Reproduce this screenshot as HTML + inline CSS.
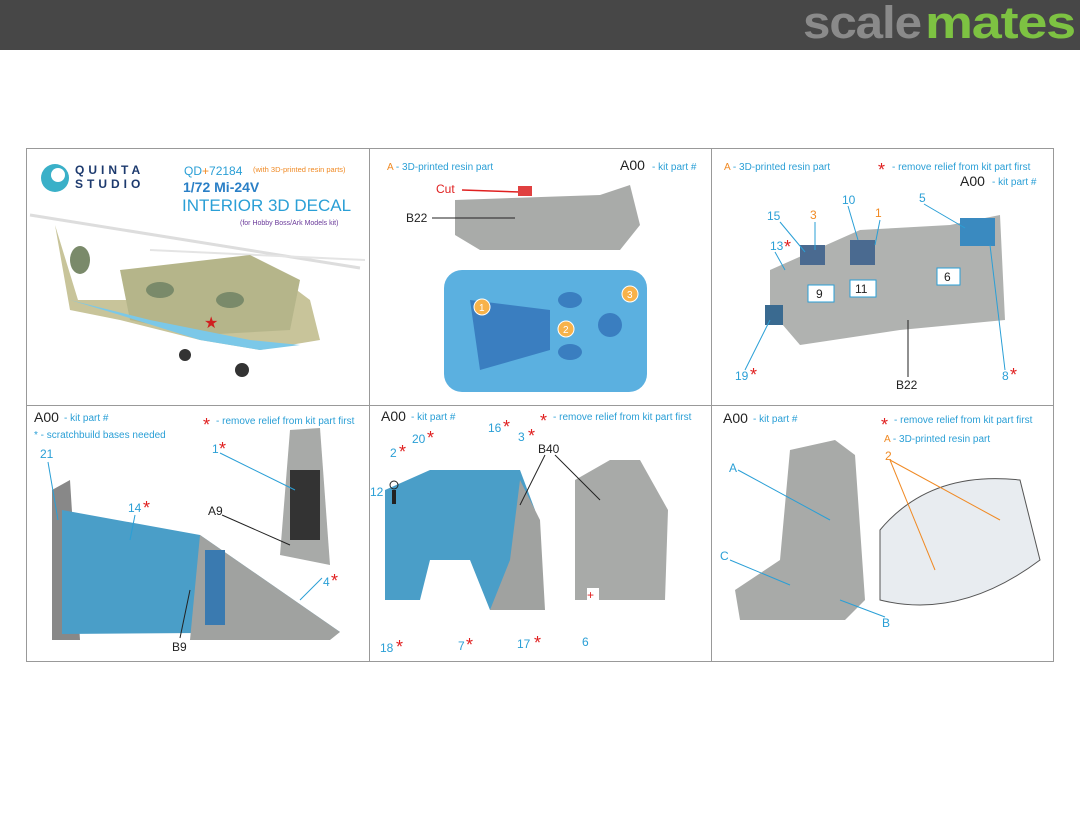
<!DOCTYPE html>
<html><head><meta charset="utf-8"><style>
body{margin:0;width:1080px;height:810px;background:#fff;overflow:hidden;font-family:"Liberation Sans",sans-serif}
</style></head><body>
<svg width="1080" height="810" xmlns="http://www.w3.org/2000/svg" font-family="Liberation Sans, sans-serif">
<rect x="0" y="0" width="1080" height="50" fill="#474747"/>
<text x="803" y="38" font-size="45" font-weight="bold" fill="#8a8a8a" letter-spacing="-1" textLength="118" lengthAdjust="spacingAndGlyphs">scale</text>
<text x="925" y="38" font-size="45" font-weight="bold" fill="#7dc242" letter-spacing="-1" textLength="150" lengthAdjust="spacingAndGlyphs">mates</text>
<rect x="26.5" y="148.5" width="1027" height="513" fill="#fff" stroke="#999" stroke-width="1"/>
<line x1="369.5" y1="148" x2="369.5" y2="662" stroke="#999"/>
<line x1="711.5" y1="148" x2="711.5" y2="662" stroke="#999"/>
<line x1="26" y1="405.5" x2="1054" y2="405.5" stroke="#999"/>

<!-- panel 1 -->
<circle cx="55" cy="178" r="14" fill="#3ab0c8"/><circle cx="58" cy="175" r="7" fill="#fff"/>
<text x="75" y="174" font-size="12" font-weight="bold" fill="#1d3a6e" letter-spacing="4">QUINTA</text>
<text x="75" y="188" font-size="12" font-weight="bold" fill="#1d3a6e" letter-spacing="4">STUDIO</text>
<text x="184" y="175" font-size="12" fill="#2a9fd6">QD<tspan fill="#f08a24">+</tspan>72184</text>
<text x="253" y="172" font-size="7.5" fill="#f08a24">(with 3D-printed resin parts)</text>
<text x="183" y="192" font-size="14" font-weight="bold" fill="#2a7fc6">1/72 Mi-24V</text>
<text x="182" y="211" font-size="17" fill="#2a9fd6">INTERIOR 3D DECAL</text>
<text x="240" y="225" font-size="7" fill="#6a3a9a">(for Hobby Boss/Ark Models kit)</text>
<line x1="30" y1="215" x2="360" y2="268" stroke="#ddd" stroke-width="3"/>
<line x1="150" y1="250" x2="365" y2="260" stroke="#e4e4e4" stroke-width="2"/>
<path d="M55 225 L78 300 L130 300 L200 280 L270 270 L310 300 L320 340 L260 350 L200 340 L120 320 L70 310 Z" fill="#c8c49a"/>
<path d="M120 270 L250 255 L300 280 L290 330 L200 335 L130 320 Z" fill="#b5b58a"/>
<path d="M70 300 L120 315 L200 340 L260 350 L300 345 L250 340 L150 320 Z" fill="#7bc8e8"/>
<circle cx="185" cy="355" r="6" fill="#333"/><circle cx="242" cy="370" r="7" fill="#333"/>
<ellipse cx="80" cy="260" rx="10" ry="14" fill="#7a8a6a"/><ellipse cx="160" cy="290" rx="14" ry="8" fill="#7a8a6a"/><ellipse cx="230" cy="300" rx="14" ry="8" fill="#7a8a6a"/>
<text x="204" y="328" font-size="16" fill="#d02020">★</text>

<!-- panel 2 -->
<text x="387" y="170" font-size="10"><tspan fill="#f08a24">A</tspan><tspan fill="#2a9fd6"> - 3D-printed resin part</tspan></text>
<text x="620" y="170" font-size="14" fill="#222">A00</text><text x="652" y="170" font-size="10" fill="#2a9fd6"> - kit part #</text>
<text x="436" y="193" font-size="12" fill="#e02020">Cut</text>
<line x1="462" y1="190" x2="520" y2="192" stroke="#e02020" stroke-width="1.5"/>
<text x="406" y="222" font-size="12" fill="#222">B22</text>
<path d="M455 200 L600 195 L630 185 L640 225 L620 250 L480 250 L455 235 Z" fill="#a9aba9"/>
<rect x="518" y="186" width="14" height="10" fill="#e04040"/>
<line x1="432" y1="218" x2="515" y2="218" stroke="#222"/>
<rect x="444" y="270" width="203" height="122" rx="18" fill="#5bb0e0"/>
<path d="M470 300 L550 310 L550 350 L480 370 Z" fill="#3a7ec0"/>
<ellipse cx="570" cy="300" rx="12" ry="8" fill="#3a7ec0"/><ellipse cx="570" cy="352" rx="12" ry="8" fill="#3a7ec0"/><ellipse cx="610" cy="325" rx="12" ry="12" fill="#3a7ec0"/>
<circle cx="482" cy="307" r="8" fill="#f7b24a" stroke="#fff"/><text x="479" y="311" font-size="10" fill="#fff">1</text>
<circle cx="566" cy="329" r="8" fill="#f7b24a" stroke="#fff"/><text x="563" y="333" font-size="10" fill="#fff">2</text>
<circle cx="630" cy="294" r="8" fill="#f7b24a" stroke="#fff"/><text x="627" y="298" font-size="10" fill="#fff">3</text>

<!-- panel 3 -->
<text x="724" y="170" font-size="10"><tspan fill="#f08a24">A</tspan><tspan fill="#2a9fd6"> - 3D-printed resin part</tspan></text>
<text x="878" y="176" font-size="18" fill="#e02020">*</text><text x="892" y="170" font-size="10" fill="#2a9fd6"> - remove relief from kit part first</text>
<text x="960" y="186" font-size="14" fill="#222">A00</text><text x="992" y="185" font-size="10" fill="#2a9fd6"> - kit part #</text>
<path d="M770 270 L860 230 L950 225 L1000 215 L1005 320 L900 330 L800 345 L770 310 Z" fill="#b0b2b0"/>
<rect x="960" y="218" width="35" height="28" fill="#3a8ac0"/>
<rect x="800" y="245" width="25" height="20" fill="#4a6a90"/><rect x="850" y="240" width="25" height="25" fill="#4a6a90"/>
<rect x="765" y="305" width="18" height="20" fill="#3a6a90"/>
<rect x="808" y="285" width="26" height="17" fill="#fff" stroke="#2a9fd6"/><text x="816" y="298" font-size="12" fill="#222">9</text>
<rect x="850" y="280" width="26" height="17" fill="#fff" stroke="#2a9fd6"/><text x="855" y="293" font-size="12" fill="#222">11</text>
<rect x="937" y="268" width="23" height="17" fill="#fff" stroke="#2a9fd6"/><text x="944" y="281" font-size="12" fill="#222">6</text>
<g font-size="12" fill="#2a9fd6"><text x="767" y="220">15</text><text x="770" y="250">13</text><text x="842" y="204">10</text><text x="919" y="202">5</text><text x="735" y="380">19</text><text x="1002" y="380">8</text></g>
<g font-size="18" fill="#e02020"><text x="784" y="253">*</text><text x="750" y="381">*</text><text x="1010" y="381">*</text></g>
<g font-size="12" fill="#f08a24"><text x="810" y="219">3</text><text x="875" y="217">1</text></g>
<g stroke="#2a9fd6" fill="none"><path d="M780 222 L805 252"/><path d="M848 206 L858 240"/><path d="M924 204 L965 228"/><path d="M880 220 L875 245"/><path d="M815 222 L815 250"/><path d="M775 252 L785 270"/><path d="M745 370 L770 320"/><path d="M1005 370 L990 245"/></g>
<text x="896" y="389" font-size="12" fill="#222">B22</text>
<line x1="908" y1="377" x2="908" y2="320" stroke="#222"/>

<!-- panel 4 -->
<text x="34" y="422" font-size="14" fill="#222">A00</text><text x="64" y="421" font-size="10" fill="#2a9fd6"> - kit part #</text>
<text x="203" y="431" font-size="18" fill="#e02020">*</text><text x="216" y="424" font-size="10" fill="#2a9fd6"> - remove relief from kit part first</text>
<text x="34" y="438" font-size="10" fill="#2a9fd6">* - scratchbuild bases needed</text>
<path d="M52 490 L70 480 L80 640 L52 640 Z" fill="#888"/>
<path d="M62 510 L200 535 L340 632 L62 634 Z" fill="#4a9ec8"/>
<path d="M200 535 L340 632 L330 640 L190 640 Z" fill="#a0a2a0"/>
<rect x="205" y="550" width="20" height="75" fill="#3a7ab0"/>
<path d="M290 430 L320 428 L330 565 L280 555 Z" fill="#a8aaa8"/><rect x="290" y="470" width="30" height="70" fill="#333"/>
<g font-size="12" fill="#2a9fd6"><text x="40" y="458">21</text><text x="128" y="512">14</text><text x="212" y="453">1</text><text x="323" y="586">4</text></g>
<g font-size="18" fill="#e02020"><text x="143" y="514">*</text><text x="219" y="455">*</text><text x="331" y="587">*</text></g>
<g stroke="#2a9fd6"><line x1="48" y1="462" x2="58" y2="520"/><line x1="220" y1="453" x2="295" y2="490"/><line x1="322" y1="578" x2="300" y2="600"/><line x1="135" y1="515" x2="130" y2="540"/></g>
<g stroke="#222"><line x1="222" y1="515" x2="290" y2="545"/><line x1="180" y1="638" x2="190" y2="590"/></g>
<g font-size="12" fill="#222"><text x="208" y="515">A9</text><text x="172" y="651">B9</text></g>

<!-- panel 5 -->
<text x="381" y="421" font-size="14" fill="#222">A00</text><text x="411" y="420" font-size="10" fill="#2a9fd6"> - kit part #</text>
<text x="540" y="427" font-size="18" fill="#e02020">*</text><text x="553" y="420" font-size="10" fill="#2a9fd6"> - remove relief from kit part first</text>
<path d="M385 490 L430 470 L520 470 L535 510 L530 600 L490 610 L470 560 L430 560 L420 600 L385 600 Z" fill="#4a9ec8"/>
<path d="M520 480 L540 520 L545 610 L490 610 L510 560 Z" fill="#a0a2a0"/>
<path d="M575 480 L610 460 L640 460 L668 510 L665 600 L575 600 Z" fill="#a8aaa8"/>
<rect x="587" y="588" width="12" height="12" fill="#fff"/><text x="587" y="599" font-size="12" fill="#e02020">+</text>
<rect x="392" y="490" width="4" height="14" fill="#222"/><circle cx="394" cy="485" r="4" fill="none" stroke="#222"/>
<g font-size="12" fill="#2a9fd6"><text x="390" y="457">2</text><text x="412" y="443">20</text><text x="488" y="432">16</text><text x="518" y="441">3</text><text x="370" y="496">12</text><text x="380" y="652">18</text><text x="458" y="650">7</text><text x="517" y="648">17</text><text x="582" y="646">6</text></g>
<g font-size="18" fill="#e02020"><text x="399" y="458">*</text><text x="427" y="444">*</text><text x="503" y="433">*</text><text x="528" y="442">*</text><text x="396" y="653">*</text><text x="466" y="651">*</text><text x="534" y="649">*</text></g>
<g stroke="#222"><line x1="545" y1="455" x2="520" y2="505"/><line x1="555" y1="455" x2="600" y2="500"/></g>
<text x="538" y="453" font-size="12" fill="#222">B40</text>

<!-- panel 6 -->
<text x="723" y="423" font-size="14" fill="#222">A00</text><text x="753" y="422" font-size="10" fill="#2a9fd6"> - kit part #</text>
<text x="881" y="431" font-size="18" fill="#e02020">*</text><text x="894" y="423" font-size="10" fill="#2a9fd6"> - remove relief from kit part first</text>
<text x="884" y="442" font-size="10"><tspan fill="#f08a24">A</tspan><tspan fill="#2a9fd6"> - 3D-printed resin part</tspan></text>
<path d="M790 450 L835 440 L855 455 L865 600 L845 620 L740 620 L735 590 L780 560 Z" fill="#a8aaa8"/>
<path d="M880 530 Q930 470 1020 480 L1040 560 Q960 620 880 600 Z" fill="#e8ecf0" stroke="#555"/>
<g stroke="#2a9fd6"><line x1="738" y1="470" x2="830" y2="520"/><line x1="730" y1="560" x2="790" y2="585"/><line x1="885" y1="617" x2="840" y2="600"/></g>
<g stroke="#f08a24"><line x1="890" y1="460" x2="935" y2="570"/><line x1="890" y1="460" x2="1000" y2="520"/></g>
<g font-size="12" fill="#2a9fd6"><text x="729" y="472">A</text><text x="720" y="560">C</text><text x="882" y="627">B</text></g>
<text x="885" y="460" font-size="12" fill="#f08a24">2</text>
</svg>
</body></html>
